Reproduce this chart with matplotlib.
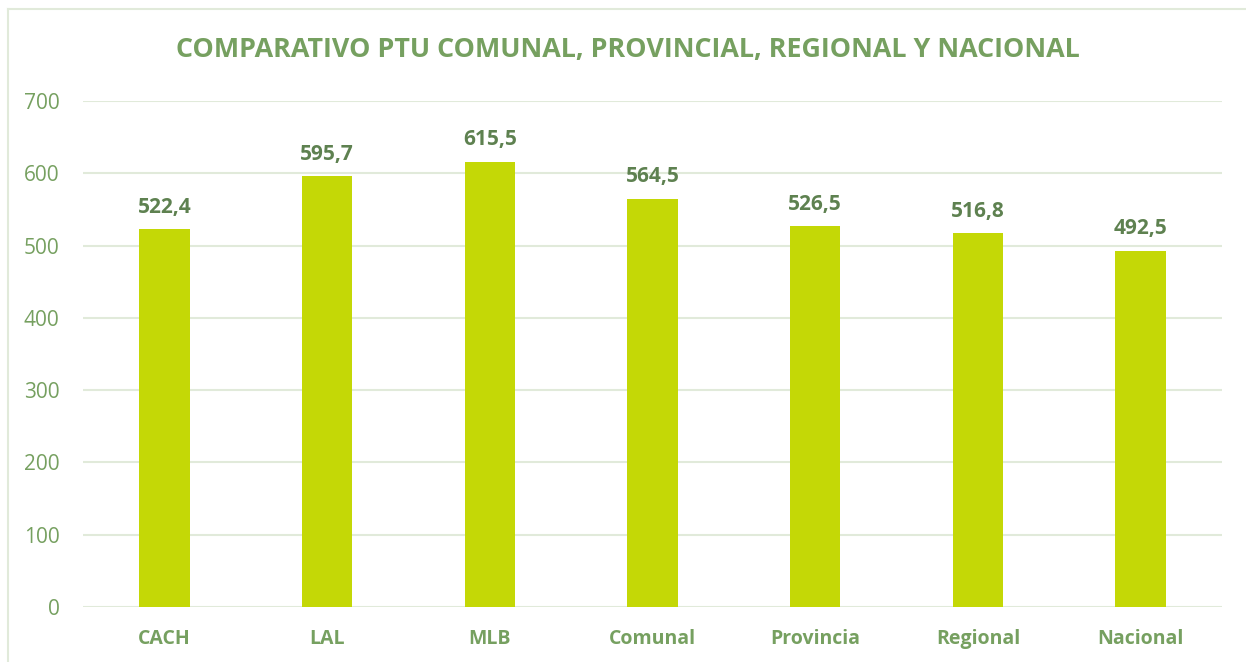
import matplotlib
matplotlib.use("Agg")
import matplotlib.pyplot as plt

categories = ["CACH", "LAL", "MLB", "Comunal", "Provincia", "Regional", "Nacional"]
values = [522.4, 595.7, 615.5, 564.5, 526.5, 516.8, 492.5]
labels = ["522,4", "595,7", "615,5", "564,5", "526,5", "516,8", "492,5"]
yticks = [0, 100, 200, 300, 400, 500, 600, 700]

BAR = "#C4D806"
TXT = "#76A060"
DARK = "#5E8150"
GRID = "#E1EADA"

plt.rcParams['font.family'] = ['Open Sans', 'DejaVu Sans']

fig = plt.figure(figsize=(12.46, 6.62), dpi=100)
W, H = 1246, 662
ax = fig.add_axes([83 / W, 1 - 607 / H, (1222 - 83) / W, (607 - 101) / H])

x = list(range(len(categories)))
ax.bar(x, values, width=0.31, color=BAR, zorder=3)
for xi, v, lab in zip(x, values, labels):
    ax.annotate(lab, (xi, v), xytext=(0, 8.5), textcoords="offset points",
                ha="center", va="bottom", fontsize=15, fontweight="bold", color=DARK)

ax.set_xlim(-0.5, len(categories) - 0.5)
ax.set_ylim(0, 700)
ax.set_yticks(yticks)
ax.set_yticklabels([str(t) for t in yticks], fontsize=15, color=TXT)
ax.set_xticks(x)
ax.set_xticklabels(categories, fontsize=14, fontweight="bold", color=TXT)
ax.tick_params(axis="both", length=0)
ax.tick_params(axis="y", pad=17)
ax.tick_params(axis="x", pad=16)
ax.grid(axis="y", color=GRID, linewidth=1.5, zorder=0)
for s in ax.spines.values():
    s.set_visible(False)

fig.text(628 / W, 1 - 50 / H, "COMPARATIVO PTU COMUNAL, PROVINCIAL, REGIONAL Y NACIONAL",
         ha="center", va="center", fontsize=19.4, fontweight="bold", color=TXT)

# chart border (left and top visible)
fig.add_artist(plt.Line2D([7.5 / W, 7.5 / W], [0, 1 - 9 / H], transform=fig.transFigure, color=GRID, linewidth=1.5))
fig.add_artist(plt.Line2D([7.5 / W, 1], [1 - 9 / H, 1 - 9 / H], transform=fig.transFigure, color=GRID, linewidth=1.5))

fig.savefig("out.png", dpi=100)
